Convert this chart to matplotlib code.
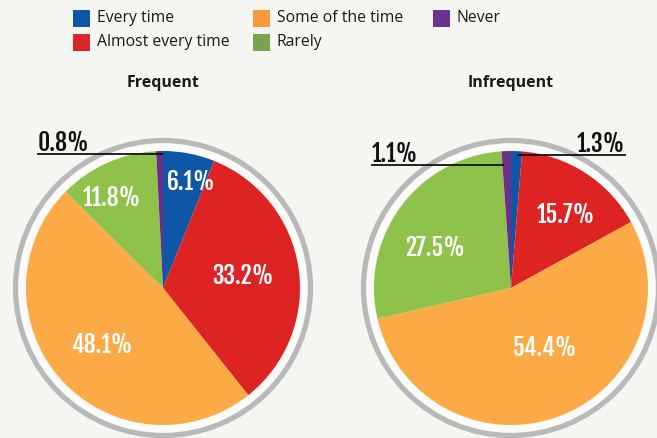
import matplotlib.pyplot as plt
from matplotlib.patches import Rectangle, Circle

W, H = 657, 438

categories = ["Every time", "Almost every time", "Some of the time", "Rarely", "Never"]
pie_colors = ["#0d57a6", "#de2323", "#fbaa45", "#8ec24a", "#6e2d8a"]
legend_colors = ["#0d57a6", "#d8262a", "#f8993b", "#7ba34c", "#6a3291"]

frequent = [6.1, 33.2, 48.1, 11.8, 0.8]
infrequent = [1.3, 15.7, 54.4, 27.5, 1.1]
titles = ["Frequent", "Infrequent"]

LABEL_FONT = ["Fjalla One", "Oswald", "DejaVu Sans"]
TEXT_FONT = ["Open Sans", "DejaVu Sans"]

fig = plt.figure(figsize=(W / 100, H / 100), dpi=100)
fig.patch.set_facecolor("#f5f5f1")
ax = fig.add_axes([0, 0, 1, 1])
ax.set_facecolor("#f5f5f1")


def y(py):
    return H - py


def draw_pie(vals, cx, cy, r, title):
    ax.add_patch(Circle((cx, y(cy)), r + 10.5, facecolor="#fbfbf9",
                        edgecolor="#b9b9b9", lw=3.8, zorder=0))
    ax.pie(vals, colors=pie_colors, startangle=90, counterclock=False,
           center=(cx, y(cy)), radius=r, frame=True,
           wedgeprops=dict(linewidth=0))
    ax.text(cx, y(83), title, ha="center", va="center", fontsize=11.5,
            fontweight="bold", family=TEXT_FONT, color="#1a1a1a")


def inside(txt, px, py):
    t = ax.text(px, y(py), txt, ha="center", va="center", fontsize=17,
                family=LABEL_FONT, color="white", zorder=5)
    t.set_fontstretch("condensed")


def outside(txt, x0, x1, py, align):
    ax.plot([x0, x1], [y(py), y(py)], color="#111111", lw=1.3, zorder=6)
    tx = x0 if align == "left" else x1
    ax.text(tx, y(py - 3), txt, ha=align, va="baseline", fontsize=17,
            family=LABEL_FONT, color="#111111", zorder=6)


draw_pie(frequent, 163, 288, 137, titles[0])
draw_pie(infrequent, 511, 288, 137, titles[1])

inside(f"{frequent[0]}%", 191, 182)
inside(f"{frequent[1]}%", 243, 276)
inside(f"{frequent[2]}%", 102, 345)
inside(f"{frequent[3]}%", 112, 198)
outside(f"{frequent[4]}%", 38, 162, 154, "left")

inside(f"{infrequent[1]}%", 566, 215)
inside(f"{infrequent[2]}%", 545, 348)
inside(f"{infrequent[3]}%", 435, 248)
outside(f"{infrequent[4]}%", 372, 503, 165, "left")
outside(f"{infrequent[0]}%", 518, 625, 155, "right")

# legend, drawn by hand: three columns, two rows
col_x = [73, 253, 433]
row_y = [18, 42]
for i, (lab, col) in enumerate(zip(categories, legend_colors)):
    cx, ry = col_x[i // 2], row_y[i % 2]
    ax.add_patch(Rectangle((cx, y(ry) - 8.5), 17, 17, facecolor=col,
                           edgecolor="none"))
    ax.text(cx + 24, y(ry), lab, ha="left", va="center", fontsize=11.3,
            family=TEXT_FONT, color="#1a1a1a")

ax.set_xlim(0, W)
ax.set_ylim(0, H)
ax.axis("off")

fig.savefig("out.png", dpi=100, facecolor=fig.get_facecolor())
